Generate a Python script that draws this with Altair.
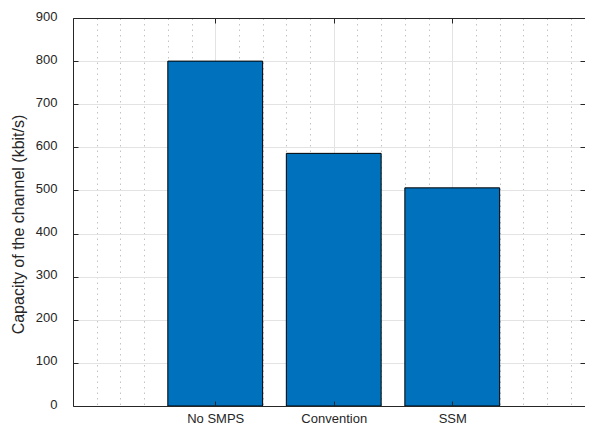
import altair as alt
import pandas as pd

# ---- data ----
categories = ["No SMPS", "Convention", "SSM"]
positions = [1, 2, 3]
capacity = [800, 586, 506]
y_ticks = [0, 100, 200, 300, 400, 500, 600, 700, 800, 900]
x_minor = [0, 0.2, 0.4, 0.6, 0.8, 1.2, 1.4, 1.6, 1.8, 2.2, 2.4, 2.6, 2.8,
           3.2, 3.4, 3.6, 3.8, 4.0]
x_domain = [-0.2, 4.12]
y_domain = [0, 900]
bar_width = 0.8

df = pd.DataFrame({"pos": positions, "cat": categories, "cap": capacity})

FONT = "Liberation Sans"
AX = "#262626"
GRID = "#e3e3e3"

xscale = alt.Scale(domain=x_domain, nice=False, zero=False)
yscale = alt.Scale(domain=y_domain, nice=False, zero=False)

label_expr = " : ".join(
    f"datum.value == {p} ? '{c}'" for p, c in zip(positions, categories)
) + " : ''"

half = bar_width / 2

base = alt.Chart(df).transform_calculate(
    x0=f"datum.pos - {half}", x1=f"datum.pos + {half}"
)

def blank_axis(orient, vals, **kw):
    opts = dict(orient=orient, values=vals, labels=False, ticks=False,
                domain=False, grid=False, title=None)
    opts.update(kw)
    return alt.Axis(**opts)

# major solid grid
grid = base.mark_point(opacity=0).encode(
    x=alt.X("pos:Q", scale=xscale,
            axis=blank_axis("bottom", positions, grid=True, gridColor=GRID)),
    y=alt.Y("cap:Q", scale=yscale,
            axis=blank_axis("left", y_ticks, grid=True, gridColor=GRID)),
)

# minor dotted grid
minor = base.mark_point(opacity=0).encode(
    x=alt.X("pos:Q", scale=xscale,
            axis=blank_axis("bottom", x_minor, grid=True, gridColor="#c4c4c4",
                            gridDash=[1.5, 4], gridWidth=1)),
    y=alt.Y("cap:Q", scale=yscale, axis=None),
)

bars = base.mark_rect(color="#0072BD", stroke="#000000", strokeWidth=1).encode(
    x=alt.X("x0:Q", scale=xscale,
            axis=alt.Axis(orient="bottom", values=positions,
                          labelExpr=label_expr, grid=False, ticks=False,
                          tickSize=0, domain=True, domainColor=AX,
                          domainWidth=1, labelPadding=6, labelFontSize=13,
                          labelFont=FONT, labelColor=AX, title=None,
                          zindex=1)),
    x2="x1:Q",
    y=alt.Y("cap:Q", scale=yscale,
            axis=alt.Axis(orient="left", values=y_ticks, grid=False,
                          ticks=False, tickSize=0, domain=True,
                          domainColor=AX, domainWidth=1,
                          labelPadding=16, labelFontSize=13, labelFont=FONT,
                          labelColor=AX, labelOffset=-2,
                          title="Capacity of the channel (kbit/s)",
                          titleFont=FONT, titleFontSize=16,
                          titleFontWeight="normal", titleColor=AX,
                          titlePadding=9, titleY=206, zindex=1)),
    y2=alt.datum(0),
)

def tick_axis(orient, vals):
    return alt.Axis(orient=orient, values=vals, offset=-5, tickSize=5,
                    tickColor=AX, tickWidth=1, labels=False, domain=False,
                    grid=False, title=None, zindex=1)

ticks1 = base.mark_point(opacity=0).encode(
    x=alt.X("pos:Q", scale=xscale, axis=tick_axis("bottom", positions)),
    y=alt.Y("cap:Q", scale=yscale, axis=tick_axis("left", y_ticks)),
)
ticks2 = base.mark_point(opacity=0).encode(
    x=alt.X("pos:Q", scale=xscale, axis=tick_axis("top", positions)),
    y=alt.Y("cap:Q", scale=yscale, axis=tick_axis("right", y_ticks)),
)
frame_top = base.mark_point(opacity=0).encode(
    x=alt.X("pos:Q", scale=xscale,
            axis=blank_axis("top", positions, domain=True, domainColor=AX,
                            domainWidth=1, zindex=1)),
    y=alt.Y("cap:Q", scale=yscale, axis=None),
)

chart = alt.layer(grid, minor, bars, ticks1, ticks2, frame_top).resolve_axis(
    x="independent", y="independent"
).properties(
    width=512, height=388,
    autosize=alt.AutoSizeParams(type="none"),
    padding={"left": 65, "top": 10, "right": 0, "bottom": 18},
    background="white",
).configure_view(stroke=None)

chart.save("out.html", embed_options={"renderer": "svg", "actions": False})
